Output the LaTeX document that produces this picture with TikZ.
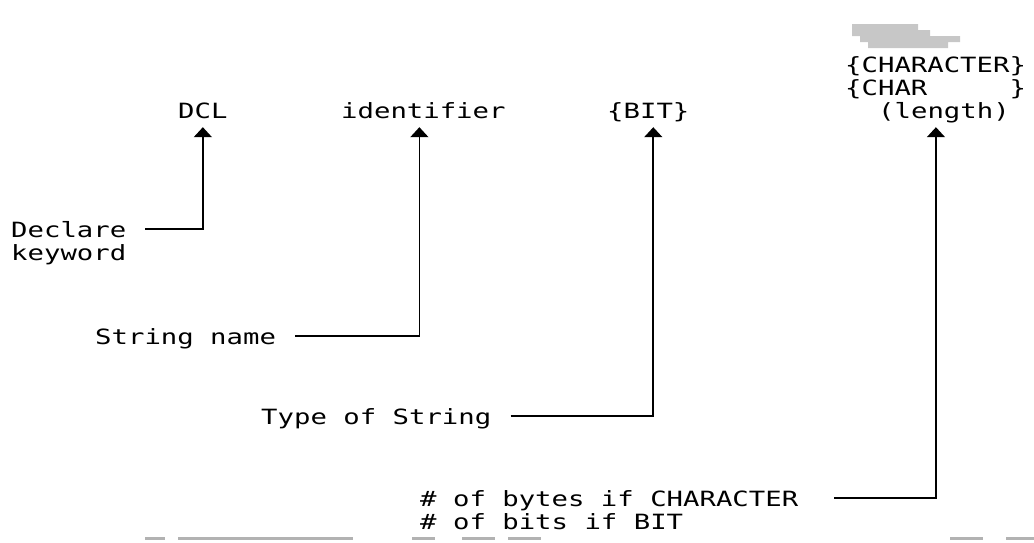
\documentclass[tikz,border=0pt]{standalone}
\usepackage{fontspec}
\setmonofont[FakeStretch=1.3]{DejaVu Sans Mono}
\usetikzlibrary{arrows.meta}
\tikzset{
    lbl/.style={font=\fontsize{21}{23}\selectfont\ttfamily, inner sep=0pt, text height=16pt, text depth=0pt, anchor=base west},
    conn/.style={line width=1.6pt, -{Triangle[width=18pt,length=10pt]}, shorten >=9pt},
    smudge/.style={fill=black!22, draw=none}
}
\begin{document}
\begin{tikzpicture}[x=1pt,y=-1pt]
                                \useasboundingbox (0,0) rectangle (1034,542);
                                \fill[smudge] (852,24) -- (918,24) -- (918,30) -- (930,30) -- (930,36) -- (960,36) -- (960,42) -- (948,42) -- (948,48) -- (868,48) -- (868,42) -- (860,42) -- (860,36) -- (852,36) -- cycle;
                                \foreach \a/\b in {145/165,178/353,412/435,462/495,508/541,950/983,1006/1034}
                                    \fill[black!30] (\a,537) rectangle (\b,540);
                                \node at (178,118) [lbl] (dcl) {DCL};
                                \node at (341,118) [lbl] (ident) {identifier};
                                \node at (607,118) [lbl] (bit) {\{BIT\}};
                                \node at (845,72) [lbl] (chara) {\{CHARACTER\}};
                                \node at (845,95) [lbl] (charb) {\{CHAR\phantom{ACTER}\}};
                                \node at (878,118) [lbl] (len) {(length)};
                                \node at (11,237) [lbl] (decl) {Declare};
                                \node at (11,260) [lbl] (keyw) {keyword};
                                \node at (95,344) [lbl] (sname) {String name};
                                \node at (261,424) [lbl] (stype) {Type of String};
                                \node at (420,506) [lbl] (nbytes) {\# of bytes if CHARACTER};
                                \node at (420,529) [lbl] (nbits) {\# of bits if BIT};
                                \draw[conn] ([xshift=19pt]decl.east) -| (dcl.south);
                                \draw[conn] ([xshift=19pt]sname.east) -| ([xshift=-4pt]ident.south);
                                \draw[conn] ([xshift=19pt]stype.east) -| ([xshift=5pt]bit.south);
                                \draw[conn] ([xshift=36pt]nbytes.east) -| ([xshift=-8pt]len.south);
                            \end{tikzpicture}
\end{document}
